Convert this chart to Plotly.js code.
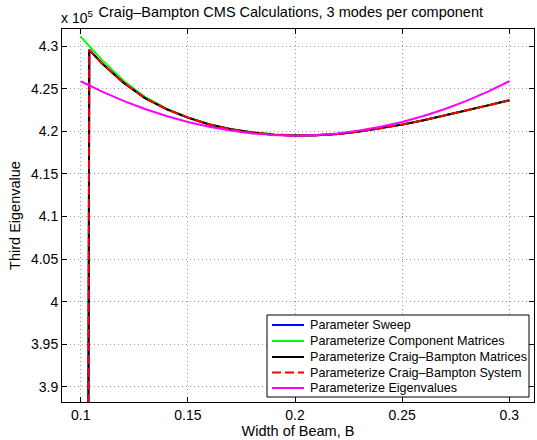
<!DOCTYPE html>
<html>
<head>
<meta charset="utf-8">
<script src="https://cdn.plot.ly/plotly-3.0.1.min.js"></script>
<style>html,body{margin:0;padding:0;background:#fff;}#chart{width:537px;height:440px;}</style>
</head>
<body>
<div id="chart"></div>
<script>
// Width of beam B
var sweepB = [0.1, 0.104, 0.11, 0.12, 0.13, 0.14, 0.15, 0.16, 0.17, 0.18, 0.19, 0.2, 0.21, 0.22, 0.23, 0.24, 0.25, 0.26, 0.27, 0.28, 0.29, 0.3];
// Third eigenvalue, in units of 1e5
var paramSweep = [0.0, 4.2959, 4.2797, 4.2572, 4.2392, 4.2262, 4.2162, 4.2082, 4.2025, 4.1988, 4.1962, 4.1951, 4.1954, 4.1970, 4.1998, 4.2035, 4.2080, 4.2132, 4.2188, 4.2246, 4.2306, 4.2367];
var compMatB = [0.1, 0.104, 0.11, 0.12, 0.13, 0.14, 0.15, 0.16, 0.17, 0.18, 0.19, 0.2, 0.21, 0.22, 0.23, 0.24, 0.25, 0.26, 0.27, 0.28, 0.29, 0.3];
var compMat = [4.3115, 4.3005, 4.2838, 4.2595, 4.2405, 4.2268, 4.2166, 4.2086, 4.2029, 4.1992, 4.1966, 4.1955, 4.1958, 4.1974, 4.2001, 4.2037, 4.2081, 4.2132, 4.2187, 4.2244, 4.2303, 4.2363];
var cbMatrices = [0.0, 4.2959, 4.2797, 4.2572, 4.2392, 4.2262, 4.2162, 4.2082, 4.2025, 4.1988, 4.1962, 4.1951, 4.1954, 4.1970, 4.1998, 4.2035, 4.2080, 4.2132, 4.2188, 4.2246, 4.2306, 4.2367];
var cbSystem = [0.0, 4.2959, 4.2797, 4.2572, 4.2392, 4.2262, 4.2162, 4.2082, 4.2025, 4.1988, 4.1962, 4.1951, 4.1954, 4.1970, 4.1998, 4.2035, 4.2080, 4.2132, 4.2188, 4.2246, 4.2306, 4.2367];
var eigB = [0.1, 0.11, 0.12, 0.13, 0.14, 0.15, 0.16, 0.17, 0.18, 0.19, 0.2, 0.21, 0.22, 0.23, 0.24, 0.25, 0.26, 0.27, 0.28, 0.29, 0.3];
var paramEig = [4.2590, 4.2468, 4.2360, 4.2264, 4.2181, 4.2112, 4.2055, 4.2010, 4.1977, 4.1957, 4.1950, 4.1957, 4.1977, 4.2010, 4.2055, 4.2112, 4.2181, 4.2264, 4.2360, 4.2468, 4.2590];

var xTickVals = [0.1, 0.15, 0.2, 0.25, 0.3];
var xTickText = ['0.1', '0.15', '0.2', '0.25', '0.3'];
var yTickVals = [3.9, 3.95, 4.0, 4.05, 4.1, 4.15, 4.2, 4.25, 4.3];
var yTickText = ['3.9', '3.95', '4', '4.05', '4.1', '4.15', '4.2', '4.25', '4.3'];

var names = ['Parameter Sweep', 'Parameterize Component Matrices', 'Parameterize Craig\u2013Bampton Matrices', 'Parameterize Craig\u2013Bampton System', 'Parameterize Eigenvalues'];
var colors = ['#0000ff', '#00ff00', '#000000', '#ff0000', '#ff00ff'];
var dashes = ['solid', 'solid', 'solid', '9px,4px', 'solid'];

var FONT = 'Liberation Sans, Arial, Helvetica, sans-serif';

var series = [[sweepB, paramSweep], [compMatB, compMat], [sweepB, cbMatrices], [sweepB, cbSystem], [eigB, paramEig]];
var traces = series.map(function (s, i) {
  return {x: s[0], y: s[1], name: names[i], mode: 'lines', showlegend: false,
          line: {color: colors[i], width: 2, dash: dashes[i]}};
});

// plot area in pixels (for the hand-built legend box)
var W = 537, H = 440, ML = 62, MR = 3, MT = 29, MB = 38;
var PW = W - ML - MR, PH = H - MT - MB;
function px(x) { return (x - ML) / PW; }
function py(y) { return (H - MB - y) / PH; }

var legLeft = 267, legRight = 529, legTop = 315, legBottom = 397;
var rowY = [325, 341, 357, 372.5, 388];
var shapes = [{type: 'rect', xref: 'paper', yref: 'paper', x0: px(legLeft), x1: px(legRight), y0: py(legBottom), y1: py(legTop),
               line: {color: '#000', width: 1}, fillcolor: '#fff', layer: 'above'}];
var annotations = [{
  text: 'x 10<sup>5</sup>', xref: 'paper', yref: 'paper', x: 0, y: 1, xanchor: 'left', yanchor: 'bottom',
  xshift: -3, yshift: 1, showarrow: false, font: {family: FONT, size: 14, color: '#000'}
}];
names.forEach(function (n, i) {
  shapes.push({type: 'line', xref: 'paper', yref: 'paper', x0: px(272), x1: px(304), y0: py(rowY[i]), y1: py(rowY[i]),
               line: {color: colors[i], width: 2, dash: dashes[i]}, layer: 'above'});
  annotations.push({text: n, xref: 'paper', yref: 'paper', x: px(308), y: py(rowY[i]), xanchor: 'left', yanchor: 'middle',
                    showarrow: false, font: {family: FONT, size: 12.6, color: '#000'}});
});

var axisCommon = {
  showline: true, linecolor: '#000', linewidth: 1, mirror: 'ticks',
  ticks: 'inside', ticklen: 5, tickcolor: '#000', tickwidth: 1,
  showgrid: true, gridcolor: '#9a9a9a', griddash: '1px,3px', gridwidth: 1,
  zeroline: false, tickfont: {family: FONT, size: 14, color: '#000'},
  automargin: false
};

var layout = {
  width: W, height: H,
  margin: {l: ML, r: MR, t: MT, b: MB},
  paper_bgcolor: '#fff', plot_bgcolor: '#fff',
  showlegend: false,
  title: {text: 'Craig\u2013Bampton CMS Calculations, 3 modes per component', font: {family: FONT, size: 14.5, color: '#000'}, x: 0.5415, xanchor: 'center', y: 0.973, yanchor: 'middle', yref: 'container'},
  xaxis: Object.assign({}, axisCommon, {
    range: [0.09127, 0.3115], tickmode: 'array', tickvals: xTickVals, ticktext: xTickText,
    title: {text: 'Width of Beam, B', font: {family: FONT, size: 14.5, color: '#000'}, standoff: 4}
  }),
  yaxis: Object.assign({}, axisCommon, {
    range: [3.882, 4.3204], tickmode: 'array', tickvals: yTickVals, ticktext: yTickText,
    title: {text: 'Third Eigenvalue', font: {family: FONT, size: 14.5, color: '#000'}, standoff: 6}
  }),
  shapes: shapes,
  annotations: annotations
};

Plotly.newPlot('chart', traces, layout, {displayModeBar: false, staticPlot: true});
</script>
</body>
</html>
